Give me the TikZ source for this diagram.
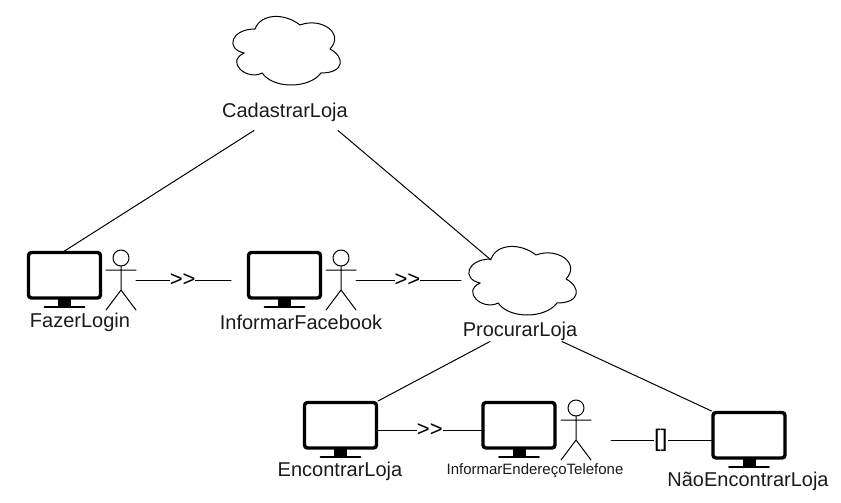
\documentclass[tikz,border=0pt]{standalone}
\usepackage{fontspec}
\setmainfont{Liberation Sans}
\usepackage{xcolor}
\usepackage{tikz}
\definecolor{ink}{HTML}{000000}
\definecolor{txt}{HTML}{1A1A1A}
\tikzset{
  base/.style={draw=ink, line width=1pt, line cap=round, line join=round},
  scrframe/.style={draw=ink, line width=3.4pt, rounded corners=3pt, fill=white},
  hitbox/.style={draw=none, inner sep=0pt, outer sep=0pt, rectangle},
  lab/.style={text=txt, inner sep=0pt, font=\fontsize{20}{24}\selectfont},
  labs/.style={text=txt, inner sep=0pt, font=\fontsize{15}{18}\selectfont},
  flowlab/.style={text=ink, fill=white, inner sep=0pt, font=\fontsize{22}{26}\selectfont},
  brklab/.style={text=ink, fill=white, inner sep=0pt, font=\fontsize{24}{28}\selectfont},
  pics/monitor/.style={code={
    \node[hitbox, minimum width=75pt, minimum height=58pt] (-box) at (0,0) {};
    \draw[scrframe] (-36,-27.5) rectangle (36,18);
    \fill[ink] (-6.5,19) rectangle (6.5,26);
    \draw[base, line width=1.6pt] (-20,27) -- (20,27);
  }},
  pics/actor/.style={code={
    \node[hitbox, minimum width=30pt, minimum height=60pt] (-box) at (0,0) {};
    \draw[base] (0,-22) circle (8);
    \draw[base] (0,-14) -- (0,10) (-15,-10) -- (15,-10) (-15,30) -- (0,10) -- (15,30);
  }},
  pics/cloudy/.style={code={
    \node[hitbox, minimum width=120pt, minimum height=80pt] (-box) at (0,0) {};
    \draw[base, fill=white] (-30,-20) .. controls (-54,-20) and (-60,0) .. (-40.8,4)
      .. controls (-60,12.8) and (-38.4,32) .. (-22.8,24)
      .. controls (-12,40) and (24,40) .. (36,24)
      .. controls (60,24) and (60,8) .. (45,0)
      .. controls (60,-16) and (36,-32) .. (15,-24)
      .. controls (0,-36) and (-24,-36) .. (-30,-20) -- cycle;
  }},
}
\begin{document}
\begin{tikzpicture}[x=1pt,y=-1pt]
  \useasboundingbox (0,0) rectangle (841,503);
  % clouds
  \pic (cad) at (285,49) {cloudy};
  \pic (proc) at (521,279) {cloudy};
  % screens and actors
  \pic (login) at (64.5,280) {monitor};
  \pic (face) at (284.5,280) {monitor};
  \pic (enc) at (340.5,430) {monitor};
  \pic (tel) at (519,430) {monitor};
  \pic (nao) at (749,440) {monitor};
  \pic (actA) at (121,280) {actor};
  \pic (actB) at (341,280) {actor};
  \pic (actC) at (576,430) {actor};
  % labels
  \node[lab] (lblCad) at (285,112) {CadastrarLoja};
  \node[lab] (lblLogin) at (80,322) {FazerLogin};
  \node[lab] (lblFace) at (301,322) {InformarFacebook};
  \node[lab] (lblProc) at (520,331) {ProcurarLoja};
  \node[lab] (lblEnc) at (340,471) {EncontrarLoja};
  \node[labs] (lblTel) at (535,471) {InformarEndereçoTelefone};
  \node[lab] (lblNao) at (748,481) {NãoEncontrarLoja};
  % tree lines
  \draw[base] ([xshift=-31pt,yshift=-9pt]lblCad.south) -- (login-box.north);
  \draw[base] ([xshift=53pt,yshift=-9pt]lblCad.south) -- ([shift={(30pt,-21pt)}]proc-box.north west);
  \draw[base] ([xshift=-30pt,yshift=-1pt]lblProc.south) -- (enc-box.north east);
  \draw[base] ([xshift=42pt,yshift=-1pt]lblProc.south) -- (nao-box.north west);
  % flows
  \draw[base, shorten >=16pt] (actA-box.east) -- (actA-box.east -| face-box.west)
    node[flowlab, pos=0.42] (stepA) {>\kern0pt>};
  \draw[base] (actB-box.east) -- (actB-box.east -| proc-box.west)
    node[flowlab, pos=0.49] (stepB) {>\kern0pt>};
  \draw[base] (enc-box.east) -- (tel-box.west)
    node[flowlab, pos=0.5] (stepC) {>\kern0pt>};
  \draw[base, shorten <=20pt] (actC-box.east |- nao-box.west) -- (nao-box.west)
    node[brklab, pos=0.58] (stepD) {[]};
\end{tikzpicture}
\end{document}
